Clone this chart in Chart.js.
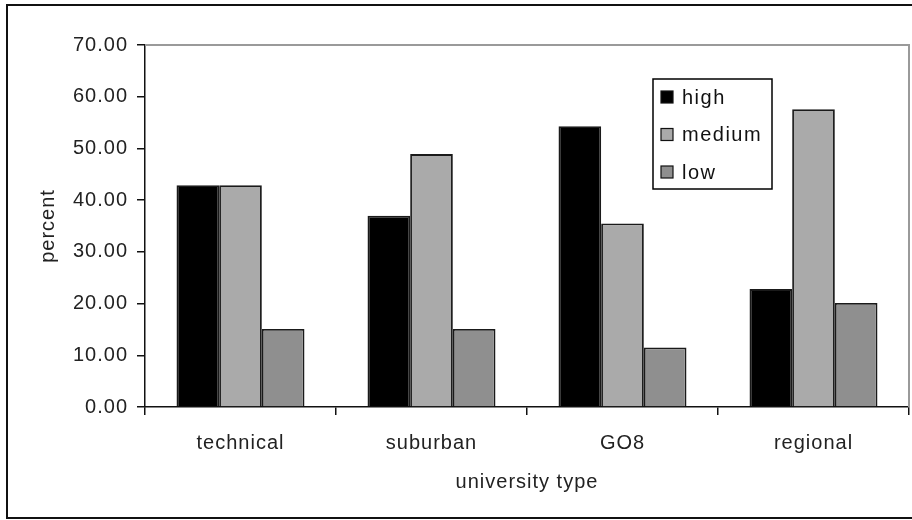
<!DOCTYPE html>
<html>
<head>
<meta charset="utf-8">
<title>university type</title>
<script src="https://cdn.jsdelivr.net/npm/chart.js@4.4.1/dist/chart.umd.min.js"></script>
<style>
  html, body { margin: 0; padding: 0; background: #fff; }
  #wrap { width: 912px; height: 520px; }
</style>
</head>
<body>
<div id="wrap"><canvas id="tipoChart" width="912" height="520"></canvas></div>
<script>
// datos
const categorias = ['technical', 'suburban', 'GO8', 'regional'];
const alto = [42.9, 37.0, 54.3, 22.8];
const medio = [42.9, 48.9, 35.5, 57.6];
const bajo = [15.1, 15.1, 11.5, 20.1];
const etiquetasSerie = ['high', 'medium', 'low'];
const coloresSerie = ['#000000', '#aaaaaa', '#8f8f8f'];

const fuente = "'Liberation Sans', Arial, sans-serif";

// marco exterior, borde gris del area y leyenda dibujada a mano
const marcoPlugin = {
    id: 'marco',
    beforeDraw(chart) {
        chart.ctx.letterSpacing = '1px'; // el texto del original es algo mas ancho
    },
    beforeDatasetsDraw(chart) {
        const c = chart.ctx;
        const a = chart.chartArea;
        c.save();
        c.strokeStyle = '#9a9a9a';
        c.lineWidth = 2;
        c.beginPath();
        c.moveTo(a.left, a.top);
        c.lineTo(a.right, a.top);
        c.lineTo(a.right, a.bottom);
        c.stroke();
        c.restore();
    },
    afterDraw(chart) {
        const c = chart.ctx;
        c.save();
        c.strokeStyle = '#111';
        c.lineWidth = 2;
        c.beginPath();
        c.moveTo(914, 5);
        c.lineTo(7, 5);
        c.lineTo(7, 518);
        c.lineTo(914, 518);
        c.stroke();

        // leyenda
        const x = 653, y = 79, w = 119, h = 110;
        c.fillStyle = '#fff';
        c.fillRect(x, y, w, h);
        c.lineWidth = 1.5;
        c.strokeStyle = '#000';
        c.strokeRect(x, y, w, h);
        c.font = '20px ' + fuente;
        c.letterSpacing = '1.5px';
        c.textBaseline = 'middle';
        chart.data.datasets.forEach(function(ds, i) {
            const cy = 97 + i * 37.5;
            c.fillStyle = ds.backgroundColor;
            c.fillRect(661, cy - 6, 12, 12);
            c.lineWidth = 1.2;
            c.strokeStyle = '#111';
            c.strokeRect(661, cy - 6, 12, 12);
            c.fillStyle = '#111';
            c.fillText(ds.label, 682, cy + 1);
        });
        c.restore();
    }
};

document.addEventListener("DOMContentLoaded", function() {
    const ctx = document.getElementById('tipoChart').getContext('2d');
    const series = [alto, medio, bajo];
    const tipoChart = new Chart(ctx, {
        type: 'bar',
        data: {
            labels: categorias,
            datasets: series.map(function(valores, i) {
                return {
                    label: etiquetasSerie[i],
                    data: valores,
                    backgroundColor: coloresSerie[i],
                    borderColor: '#1a1a1a',
                    borderWidth: 1.8,
                    barPercentage: 1.0,
                    categoryPercentage: 0.67
                };
            })
        },
        options: {
            responsive: false,
            animation: false,
            layout: {
                padding: { top: 45, right: 3, left: 0, bottom: 0 }
            },
            plugins: {
                legend: { display: false },
                tooltip: { enabled: false }
            },
            scales: {
                x: {
                    offset: true,
                    grid: {
                        offset: true,
                        drawOnChartArea: false,
                        color: '#111',
                        tickLength: 8,
                        lineWidth: 1.5
                    },
                    border: { color: '#111', width: 1.5 },
                    ticks: {
                        color: '#222',
                        padding: 16,
                        font: { family: fuente, size: 20 }
                    },
                    title: {
                        display: true,
                        text: 'university type',
                        color: '#222',
                        font: { family: fuente, size: 20 },
                        padding: { top: 0, bottom: 26 }
                    },
                    afterFit: function(scale) { scale.height = 113; }
                },
                y: {
                    min: 0,
                    max: 70,
                    grid: {
                        drawOnChartArea: false,
                        color: '#111',
                        tickLength: 8,
                        lineWidth: 1.5
                    },
                    border: { color: '#111', width: 1.5 },
                    ticks: {
                        stepSize: 10,
                        color: '#222',
                        padding: 9,
                        font: { family: fuente, size: 20 },
                        callback: function(v) { return Number(v).toFixed(2); }
                    },
                    title: {
                        display: true,
                        text: 'percent',
                        color: '#222',
                        font: { family: fuente, size: 20 },
                        padding: { top: 36, bottom: 0 }
                    },
                    afterFit: function(scale) { scale.width = 145; }
                }
            }
        },
        plugins: [marcoPlugin]
    });
});
</script>
</body>
</html>
